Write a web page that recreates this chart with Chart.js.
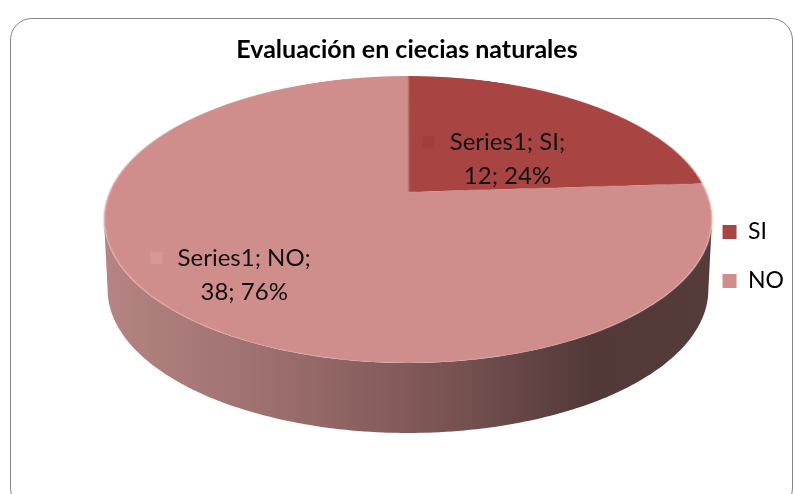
<!DOCTYPE html>
<html>
<head>
<meta charset="utf-8">
<script src="https://cdn.jsdelivr.net/npm/chart.js@4.4.1/dist/chart.umd.min.js"></script>
<style>
  html, body { margin: 0; padding: 0; background: #fff; overflow: hidden; }
  #frame {
    position: absolute; left: 10px; top: 18px; width: 781px; height: 490px;
    border: 1.5px solid #858585; border-radius: 22px;
  }
  #chart { position: absolute; left: 0; top: 0; }
</style>
</head>
<body>
<div id="frame"></div>
<canvas id="chart" width="795" height="494"></canvas>
<script>
const categories = ["SI", "NO"];
const seriesName = "Series1";
const values = [12, 38];

const sliceColors = ["#a84543", "#cf8e8c"];
const keyColors = ["#a0403e", "#d49896"];

// turns the flat pie into a tilted disc with a side wall
function createTiltPlugin() {
  return {
    id: "tilt3d",
    afterDatasetsDraw(chart, args, opts) {
      const ctx = chart.ctx;
      const arcs = chart.getDatasetMeta(0).data;
      if (!arcs.length) return;
      const { x: sx, y: sy, outerRadius: R } = arcs[0];
      const dpr = chart.currentDevicePixelRatio;
      const m = 3;
      const x0 = sx - R - m, y0 = sy - R - m, size = 2 * (R + m);

      const off = document.createElement("canvas");
      off.width = Math.ceil(size * dpr);
      off.height = Math.ceil(size * dpr);
      off.getContext("2d").drawImage(chart.canvas, x0 * dpr, y0 * dpr, size * dpr, size * dpr, 0, 0, size * dpr, size * dpr);
      ctx.clearRect(x0 - 1, y0 - 1, size + 2, size + 2);

      const { cx, cy, a, b, c, depth, shrink } = opts;
      const project = (nx, ny) => {
        const w = 1 + c * ny;
        return [cx + a * nx / w, cy + b * ny / w];
      };

      // side wall
      const t1 = Math.asin(-c), t2 = Math.PI - t1;
      const N = 160;
      ctx.save();
      ctx.beginPath();
      for (let i = 0; i <= N; i++) {
        const t = t1 + (t2 - t1) * i / N;
        const [px, py] = project(Math.cos(t), Math.sin(t));
        if (i) ctx.lineTo(px, py); else ctx.moveTo(px, py);
      }
      for (let i = N; i >= 0; i--) {
        const t = t1 + (t2 - t1) * i / N;
        const [px, py] = project(Math.cos(t), Math.sin(t));
        ctx.lineTo(cx + (px - cx) * shrink, py + depth);
      }
      ctx.closePath();
      const halfW = a / Math.sqrt(1 - c * c);
      const grad = ctx.createLinearGradient(cx - halfW, 0, cx + halfW, 0);
      opts.wallStops.forEach(([p, col]) => grad.addColorStop(p, col));
      ctx.fillStyle = grad;
      ctx.fill();
      ctx.restore();

      // top face, row by row
      const yTop = -b / (1 - c), yBot = b / (1 + c);
      for (let Y = Math.floor(yTop) - 2; Y <= Math.ceil(yBot) + 2; Y++) {
        const yc = Y + 0.5;
        const yn = yc / (b - c * yc);
        if (yn < -1.03 || yn > 1.03) continue;
        const dyn = b / Math.pow(b - c * yc, 2);
        const k = a / (1 + c * yn) / R;
        const h = Math.max(dyn * R, 0.5);
        let srcY = R + m + yn * R - h / 2;
        srcY = Math.min(Math.max(srcY, 0), size - h);
        ctx.drawImage(off, 0, srcY * dpr, off.width, h * dpr, cx - k * (R + m), cy + Y, k * size, 1);
      }

      // data labels
      const data = chart.data.datasets[0].data;
      const total = data.reduce((s, v) => s + v, 0);
      ctx.save();
      ctx.font = opts.labelFont;
      ctx.textAlign = "center";
      ctx.textBaseline = "middle";
      arcs.forEach((arc, i) => {
        const mid = (arc.startAngle + arc.endAngle) / 2;
        const r = opts.labelRadius;
        const [ax, ay] = project(r * Math.cos(mid), r * Math.sin(mid));
        const [dx, dy] = opts.labelShift[i];
        const lx = ax + dx, ly = ay + dy;
        const pct = Math.round(data[i] / total * 100);
        const lines = [`${seriesName}; ${chart.data.labels[i]};`, `${data[i]}; ${pct}%`];
        const lh = opts.lineHeight;
        const w0 = ctx.measureText(lines[0]).width;
        ctx.fillStyle = keyColors[i];
        ctx.fillRect(lx - w0 / 2 - 27, ly - lh / 2 - 6, 12, 12);
        ctx.fillStyle = "#111";
        lines.forEach((s, j) => ctx.fillText(s, lx, ly + (j - 0.5) * lh));
      });
      ctx.restore();
    },
  };
}

const ctx = document.getElementById("chart").getContext("2d");

new Chart(ctx, {
  type: "pie",
  data: {
    labels: categories,
    datasets: [{
      label: seriesName,
      data: values,
      backgroundColor: sliceColors,
      borderWidth: 0,
    }],
  },
  options: {
    responsive: false,
    animation: false,
    devicePixelRatio: 1,
    layout: { padding: { top: 25, right: 1, bottom: 6, left: 20 } },
    plugins: {
      tooltip: { enabled: false },
      title: {
        display: true,
        text: "Evaluación en ciecias naturales",
        color: "#000",
        font: { family: "Lato", size: 25, weight: "bold" },
        padding: { top: 10, bottom: 10 },
      },
      legend: {
        position: "right",
        labels: {
          boxWidth: 14,
          boxHeight: 14,
          padding: 26,
          color: "#000",
          font: { family: "Lato", size: 23 },
        },
      },
      tilt3d: {
        cx: 408, cy: 192,
        a: 298.4, b: 138.2, c: -0.1916,
        depth: 70, shrink: 0.988,
        wallStops: [[0, "#b58483"], [0.3, "#9a6d6c"], [0.6, "#74504f"], [0.8, "#523938"], [1, "#553b3a"]],
        labelFont: "24px Lato",
        lineHeight: 34,
        labelRadius: 0.5,
        labelShift: [[4, 14], [-54, 29]],
      },
    },
  },
  plugins: [createTiltPlugin()],
});
</script>
</body>
</html>
